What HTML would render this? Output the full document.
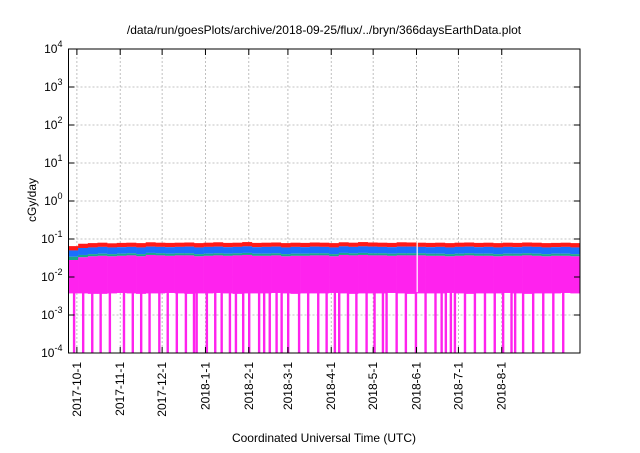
<!DOCTYPE html>
<html><head><meta charset="utf-8"><style>
body{margin:0;background:#fff;}
svg text{font-family:"Liberation Sans",sans-serif;font-size:12px;fill:#000;}
</style></head><body>
<svg id="chart" width="640" height="448" xmlns="http://www.w3.org/2000/svg">
<text x="324" y="34" text-anchor="middle">/data/run/goesPlots/archive/2018-09-25/flux/../bryn/366daysEarthData.plot</text>
<text transform="translate(36,200) rotate(-90)" text-anchor="middle">cGy/day</text>
<text x="324" y="442" text-anchor="middle">Coordinated Universal Time (UTC)</text>
<g id="grid"></g><g id="series"></g><g id="axes"></g>
</svg>
<script>
const yTicks=[-4,-3,-2,-1,0,1,2,3,4];
const monthLabels=["2017-10-1","2017-11-1","2017-12-1","2018-1-1","2018-2-1","2018-3-1","2018-4-1","2018-5-1","2018-6-1","2018-7-1","2018-8-1"];
const monthDays=[6,37,67,98,129,157,188,218,249,279,310];
const redTop=[0.065,0.075,0.078,0.08,0.077,0.079,0.08,0.078,0.082,0.08,0.079,0.08,0.081,0.078,0.08,0.082,0.079,0.08,0.083,0.079,0.08,0.081,0.078,0.08,0.079,0.081,0.08,0.078,0.082,0.08,0.083,0.081,0.08,0.079,0.082,0.081,0.08,0.079,0.08,0.078,0.08,0.081,0.079,0.08,0.078,0.08,0.079,0.081,0.08,0.078,0.079,0.08,0.078];
const blueTop=[0.05,0.058,0.06,0.062,0.06,0.061,0.062,0.06,0.063,0.062,0.061,0.062,0.063,0.06,0.062,0.063,0.061,0.062,0.064,0.061,0.062,0.063,0.06,0.062,0.061,0.063,0.062,0.06,0.064,0.062,0.064,0.063,0.062,0.061,0.063,0.063,0.062,0.061,0.062,0.06,0.062,0.063,0.061,0.062,0.06,0.062,0.061,0.063,0.062,0.06,0.061,0.062,0.06];
const greenTop=[0.034,0.038,0.04,0.041,0.04,0.041,0.042,0.04,0.043,0.042,0.041,0.042,0.042,0.04,0.041,0.042,0.041,0.042,0.043,0.041,0.041,0.042,0.04,0.041,0.041,0.042,0.042,0.04,0.043,0.042,0.043,0.042,0.042,0.041,0.042,0.042,0.042,0.041,0.041,0.04,0.041,0.042,0.041,0.041,0.04,0.041,0.041,0.042,0.041,0.04,0.041,0.041,0.04];
const magentaTop=[0.028,0.033,0.035,0.036,0.035,0.036,0.037,0.035,0.038,0.037,0.036,0.037,0.037,0.035,0.036,0.037,0.036,0.037,0.038,0.036,0.036,0.037,0.035,0.036,0.036,0.037,0.037,0.035,0.038,0.037,0.038,0.037,0.037,0.036,0.037,0.037,0.037,0.036,0.036,0.035,0.036,0.037,0.036,0.036,0.035,0.036,0.036,0.037,0.036,0.035,0.036,0.036,0.035];
const magentaBottom=[0.0037,0.0037,0.0036,0.0036,0.0037,0.0038,0.0037,0.0036,0.0037,0.0037,0.0038,0.0037,0.0036,0.0037,0.0037,0.0038,0.0037,0.0036,0.0037,0.0037,0.0037,0.0038,0.0037,0.0036,0.0037,0.0037,0.0037,0.0038,0.0037,0.0036,0.0037,0.0037,0.0037,0.0038,0.0037,0.0036,0.0037,0.0037,0.0037,0.0038,0.0037,0.0036,0.0037,0.0037,0.0037,0.0038,0.0037,0.0036,0.0037,0.0037,0.0037,0.0038,0.0037];
const dropoutDays=[4,10.5,17,23,29.6,39.7,46,52,58,65,71,77.5,84,89.8,91.7,99,105,109.6,115.5,119.8,125,129.3,136.4,140,144,148.9,152.5,157.2,165,171.5,178.7,184.7,190.6,193.7,200,206,213.3,219,225,227.6,234.8,241.4,248.6,255.5,262.6,267,270,273.6,276.5,283.7,290.8,298,305,311,317,319.6,325.3,332.5,339.7,346.9,354];
const gapDay=249.5;
const L=68.5,R=580,T=49,B=353,NDAYS=366;
const xs=d=>L+d*(R-L)/NDAYS;
const ys=v=>T+(4-Math.log10(v))*(B-T)/8;
const NS='http://www.w3.org/2000/svg';
function mk(tag,attrs,parent){const e=document.createElementNS(NS,tag);for(const k in attrs)e.setAttribute(k,attrs[k]);parent.appendChild(e);return e;}
const grid=document.getElementById('grid'),series=document.getElementById('series'),axes=document.getElementById('axes');
yTicks.forEach(p=>{const y=ys(Math.pow(10,p));
 const g=mk('line',{x1:L,x2:R,y1:y,y2:y,stroke:'#b0b0b0','stroke-dasharray':'2,2','stroke-width':0.8},grid);
 
 mk('line',{x1:L,x2:L+6,y1:y,y2:y,stroke:'#000'},axes);mk('line',{x1:R-6,x2:R,y1:y,y2:y,stroke:'#000'},axes);
 const t=mk('text',{x:L-6,y:y+4,'text-anchor':'end'},axes);
 
 t.appendChild(document.createTextNode('10'));const s=mk('tspan',{dy:-6,'font-size':'9px'},t);s.textContent=String(p);
});
monthDays.forEach((d,i)=>{const x=xs(d);
 const g=mk('line',{x1:x,x2:x,y1:T,y2:B,stroke:'#b0b0b0','stroke-dasharray':'2,2','stroke-width':0.8},grid);
 
 mk('line',{x1:x,x2:x,y1:B,y2:B-6,stroke:'#000'},axes);mk('line',{x1:x,x2:x,y1:T,y2:T+6,stroke:'#000'},axes);
 const t=mk('text',{transform:`translate(${x+4},${B+9}) rotate(-90)`,'text-anchor':'end'},axes);
 t.textContent=monthLabels[i];
});
const wk=NDAYS/redTop.length;
function band(top,bot,color,name){
 for(let i=0;i<top.length;i++){
  const x0=xs(i*wk),x1=xs((i+1)*wk)+0.3;const y0=ys(top[i]),y1=ys(bot[i]);
  const r=mk('rect',{x:x0,y:y0,width:x1-x0,height:y1-y0,fill:color},series);
  
 }
}
band(redTop,blueTop,'#ff1a1a','red-series');
band(blueTop,greenTop,'#1a6fff','blue-series');
band(greenTop,magentaTop,'#1aa88a','green-series');
band(magentaTop,magentaBottom,'#ff22ee','magenta-series');
dropoutDays.forEach(d=>{const x=xs(d);
 const r=mk('rect',{x:x-1.2,y:ys(0.004),width:2.4,height:B-ys(0.004),fill:'#ff22ee'},series);
 
});
const gp=mk('rect',{x:xs(gapDay)-0.6,y:ys(0.09),width:1.2,height:ys(0.004)-ys(0.09),fill:'#fff'},series);

const fr=mk('rect',{x:L,y:T,width:R-L,height:B-T,fill:'none',stroke:'#000','stroke-width':1},axes);

</script>
</body></html>
